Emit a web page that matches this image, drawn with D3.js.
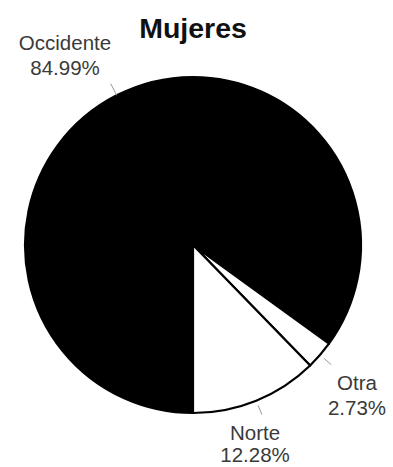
<!DOCTYPE html>
<html><head><meta charset="utf-8">
<script src="https://cdn.jsdelivr.net/npm/d3@7"></script>
<style>body{margin:0;background:#fff}svg{display:block}</style>
</head><body>
<svg id="c" width="393" height="467"></svg>
<script>
const title = "Mujeres";
const categories = ["Occidente", "Otra", "Norte"];
const values = [84.99, 2.73, 12.28];
const labels = ["84.99%", "2.73%", "12.28%"];
const fills = ["#000000", "#ffffff", "#ffffff"];

const svg = d3.select("#c");
const cx = 193, cy = 245, r = 168;
const g = svg.append("g").attr("transform", `translate(${cx},${cy})`);

const pie = d3.pie().sort(null).value(d => d).startAngle(Math.PI).endAngle(3 * Math.PI);
const arcs = pie(values);
const arc = d3.arc().innerRadius(0).outerRadius(r);

g.selectAll("path.slice").data(arcs).join("path")
  .attr("class", "slice")
  .attr("d", arc)
  .attr("fill", (d, i) => fills[i])
  .attr("stroke", "#000")
  .attr("stroke-width", 2.2)
  .attr("stroke-linejoin", "round");

// leader lines at slice mid-angles
const leader = [[0, 13], [5, 15], [5, 15]];
arcs.forEach((d, i) => {
  const a = (d.startAngle + d.endAngle) / 2;
  const r0 = r + leader[i][0], r1 = r + leader[i][1];
  g.append("line")
    .attr("x1", r0 * Math.sin(a)).attr("y1", -r0 * Math.cos(a))
    .attr("x2", r1 * Math.sin(a)).attr("y2", -r1 * Math.cos(a))
    .attr("stroke", "#999").attr("stroke-width", 1);
});

// label positions (absolute)
const labelPos = [[65, 50], [357, 390], [255, 440]];
categories.forEach((c, i) => {
  const t = svg.append("text")
    .attr("x", labelPos[i][0]).attr("y", labelPos[i][1])
    .attr("text-anchor", "middle")
    .attr("font-family", "Liberation Sans, Arial, sans-serif")
    .attr("font-size", 20.5)
    .attr("fill", "#3a3a3a");
  t.append("tspan").attr("x", labelPos[i][0]).text(c);
  t.append("tspan").attr("x", labelPos[i][0]).attr("dy", i === 2 ? 21.5 : 24.5).text(labels[i]);
});

svg.append("text")
  .attr("x", 193).attr("y", 38)
  .attr("text-anchor", "middle")
  .attr("font-family", "Liberation Sans, Arial, sans-serif")
  .attr("font-weight", "bold")
  .attr("font-size", 28.5)
  .attr("fill", "#111")
  .text(title);
</script>
</body></html>
